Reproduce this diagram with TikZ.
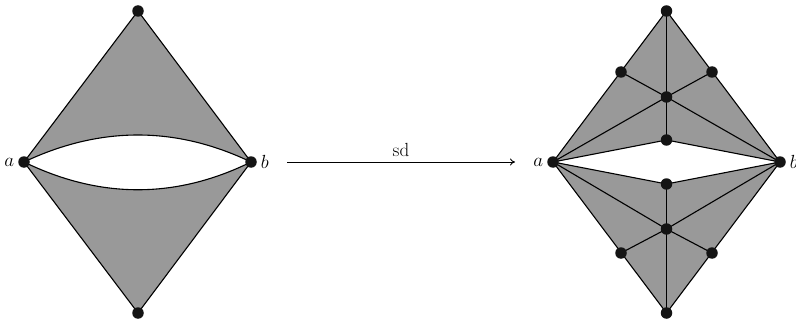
\RequirePackage{fix-cm}
\documentclass[tikz,border=0pt]{standalone}
\usetikzlibrary{arrows.meta}
\begin{document}
\begin{tikzpicture}[x=1pt,y=-1pt,line width=1.1pt,line join=round,
  dot/.style={circle,fill=black!92,inner sep=0pt,minimum size=11.5pt},
  face/.style={fill=black!40},
  lab/.style={inner sep=3pt,font=\fontsize{19}{23}\selectfont}]
\useasboundingbox (0,0) rectangle (796,321);
% ---------- left figure ----------
\coordinate (LT) at (138,11);
\coordinate (LB) at (138,313);
\coordinate (La) at (24,162);
\coordinate (Lb) at (251,162);
\fill[face] (La) -- (LT) -- (Lb) .. controls (176,126) and (100,126) .. (La) -- cycle;
\fill[face] (La) -- (LB) -- (Lb) .. controls (176,199) and (100,199) .. (La) -- cycle;
\draw (La) -- (LT) -- (Lb);
\draw (La) -- (LB) -- (Lb);
\draw (La) .. controls (100,126) and (176,126) .. (Lb);
\draw (La) .. controls (100,199) and (176,199) .. (Lb);
\foreach \p in {LT,LB,La,Lb} \node[dot] (d\p) at (\p) {};
\node[lab,anchor=east] (la) at (dLa.west) {$a$};
\node[lab,anchor=west] (lb) at (dLb.east) {$b$};
% ---------- arrow ----------
\coordinate (A1) at (287,162);
\coordinate (A2) at (515,162);
\draw[line width=0.9pt,-{To[length=5pt,width=7pt]}] (A1) -- (A2) node[midway,above,lab,inner sep=5pt] (sd) {sd};
% ---------- right figure ----------
\coordinate (RT) at (666.5,11);
\coordinate (RB) at (666.5,313);
\coordinate (Ra) at (553,162);
\coordinate (Rb) at (780,162);
\coordinate (RUL) at (621,72);
\coordinate (RUR) at (712,72);
\coordinate (RUC) at (666.5,97);
\coordinate (RUI) at (666.5,140);
\coordinate (RLI) at (666.5,184);
\coordinate (RLC) at (666.5,229);
\coordinate (RLL) at (621,253);
\coordinate (RLR) at (712,253);
\fill[face] (Ra) -- (RT) -- (Rb) -- (RUI) -- cycle;
\fill[face] (Ra) -- (RB) -- (Rb) -- (RLI) -- cycle;
\draw (Ra) -- (RT) -- (Rb) -- (RUI) -- cycle;
\draw (Ra) -- (RB) -- (Rb) -- (RLI) -- cycle;
\draw (RT) -- (RUI);
\draw (RB) -- (RLI);
\draw (Ra) -- (RUC) -- (Rb);
\draw (Ra) -- (RLC) -- (Rb);
\draw (RUL) -- (RUC) -- (RUR);
\draw (RLL) -- (RLC) -- (RLR);
\foreach \p in {RT,RB,Ra,Rb,RUL,RUR,RUC,RUI,RLI,RLC,RLL,RLR} \node[dot] (d\p) at (\p) {};
\node[lab,anchor=east] (ra) at (dRa.west) {$a$};
\node[lab,anchor=west] (rb) at (dRb.east) {$b$};
\end{tikzpicture}
\end{document}
